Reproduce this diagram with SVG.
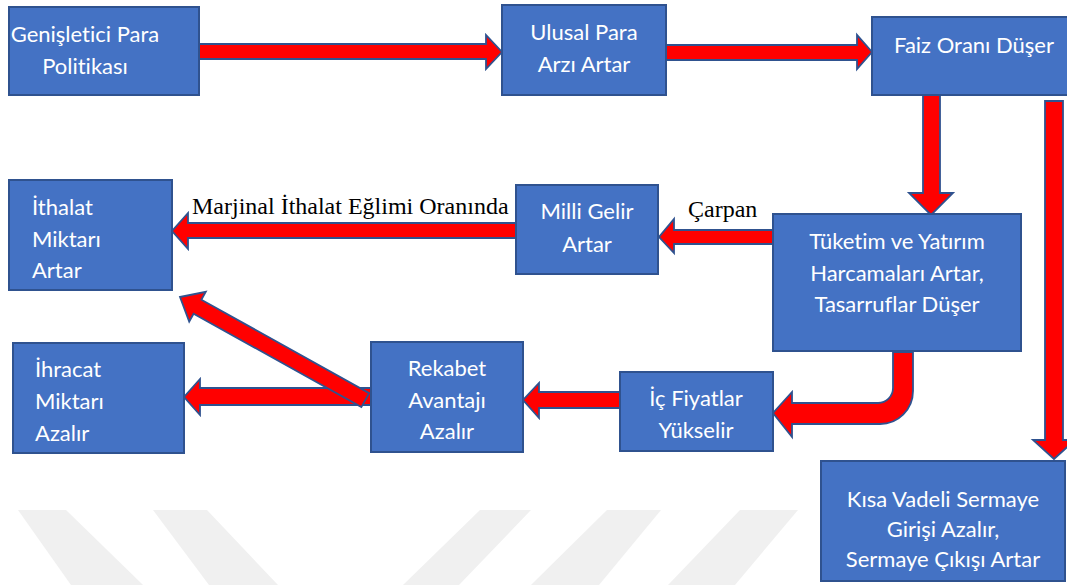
<svg xmlns="http://www.w3.org/2000/svg" width="1067" height="585" viewBox="0 0 1067 585">
<style>
.wm{fill:#f0f0f0;stroke:none}
.box{fill:#4472C4;stroke:#2F528F;stroke-width:2}
.arr{fill:#FF0000;stroke:#2F528F;stroke-width:1.8;stroke-linejoin:miter}
.t{font-family:Lato,"Open Sans","Liberation Sans",sans-serif;font-size:22px;fill:#ffffff;font-variant-ligatures:none}
.c{text-anchor:middle}
.lbl{font-family:"Liberation Serif","Times New Roman",serif;font-size:24px;fill:#000000}
</style>
<rect x="0" y="0" width="1067" height="585" fill="#ffffff"/>
<g id="watermark">
<polygon class="wm" points="18,510 66,510 143,585 71,585"/>
<polygon class="wm" points="153,510 207,510 278,585 209,585"/>
<polygon class="wm" points="480,510 531,510 459,585 403,585"/>
<polygon class="wm" points="607,510 661,510 599,585 531,585"/>
<polygon class="wm" points="740,510 798,510 735,585 668,585"/>
</g>
<g id="connectors">
<polygon class="arr" points="199,44 486,44 486,35 502,52 486,69 486,59 199,59"/>
<polygon class="arr" points="666,45 857,45 857,35 872,52 857,69 857,60 666,60"/>
<polygon class="arr" points="923,95 940,95 940,193 953,193 931,215 909,193 923,193"/>
<polygon class="arr" points="1045,101 1063,101 1063,440 1075,440 1054,459 1033,440 1045,440"/>
<polygon class="arr" points="773,230 674,230 674,219 659,237 674,253 674,244 773,244"/>
<polygon class="arr" points="516,223 188,223 188,213 172,231 188,249 188,238 516,238"/>
<path class="arr" d="M893,352 L893,388 A15,15 0 0 1 878,403 L792,403 L792,392 L773,413 L792,437 L792,424 L880,424 A33,33 0 0 0 913,391 L913,352 Z"/>
<polygon class="arr" points="620,392 539,392 539,383 523,400 539,418 539,408 620,408"/>
<polygon class="arr" points="371,388 200,388 200,379 184,397 200,415 200,405 371,405"/>
<polygon class="arr" transform="translate(180,297) rotate(29.1)" points="0,0 20,-17 20,-8 212,-8 212,8 20,8 20,17"/>
<text class="lbl" x="192" y="214">Marjinal İthalat Eğlimi Oranında</text>
<text class="lbl" x="688" y="217">Çarpan</text>
</g>
<g id="n1">
<rect class="box" x="9" y="7" width="190" height="88"/>
<text class="t c" x="85" y="42">Genişletici Para</text>
<text class="t c" x="85" y="74">Politikası</text>
</g>
<g id="n2">
<rect class="box" x="502" y="5" width="164" height="90"/>
<text class="t c" x="584" y="40">Ulusal Para</text>
<text class="t c" x="584" y="72">Arzı Artar</text>
</g>
<g id="n3">
<rect class="box" x="872" y="17" width="205" height="78"/>
<text class="t c" x="974" y="53">Faiz Oranı Düşer</text>
</g>
<g id="n4">
<rect class="box" x="773" y="214" width="248" height="137"/>
<text class="t c" x="897" y="249">Tüketim ve Yatırım</text>
<text class="t c" x="897" y="281">Harcamaları Artar,</text>
<text class="t c" x="897" y="312">Tasarruflar Düşer</text>
</g>
<g id="n5">
<rect class="box" x="516" y="185" width="142" height="89"/>
<text class="t c" x="587" y="219">Milli Gelir</text>
<text class="t c" x="587" y="252">Artar</text>
</g>
<g id="n6">
<rect class="box" x="9" y="180" width="163" height="110"/>
<text class="t" x="32" y="215">İthalat</text>
<text class="t" x="32" y="247">Miktarı</text>
<text class="t" x="32" y="278">Artar</text>
</g>
<g id="n7">
<rect class="box" x="13" y="343" width="171" height="110"/>
<text class="t" x="35" y="377">İhracat</text>
<text class="t" x="35" y="409">Miktarı</text>
<text class="t" x="35" y="441">Azalır</text>
</g>
<g id="n8">
<rect class="box" x="371" y="342" width="152" height="110"/>
<text class="t c" x="447" y="376">Rekabet</text>
<text class="t c" x="447" y="408">Avantajı</text>
<text class="t c" x="447" y="439">Azalır</text>
</g>
<g id="n9">
<rect class="box" x="620" y="372" width="153" height="79"/>
<text class="t c" x="696" y="406">İç Fiyatlar</text>
<text class="t c" x="696" y="438">Yükselir</text>
</g>
<g id="n10">
<rect class="box" x="821" y="461" width="244" height="120"/>
<text class="t c" x="943" y="507">Kısa Vadeli Sermaye</text>
<text class="t c" x="943" y="537">Girişi Azalır,</text>
<text class="t c" x="943" y="567">Sermaye Çıkışı Artar</text>
</g>
</svg>
